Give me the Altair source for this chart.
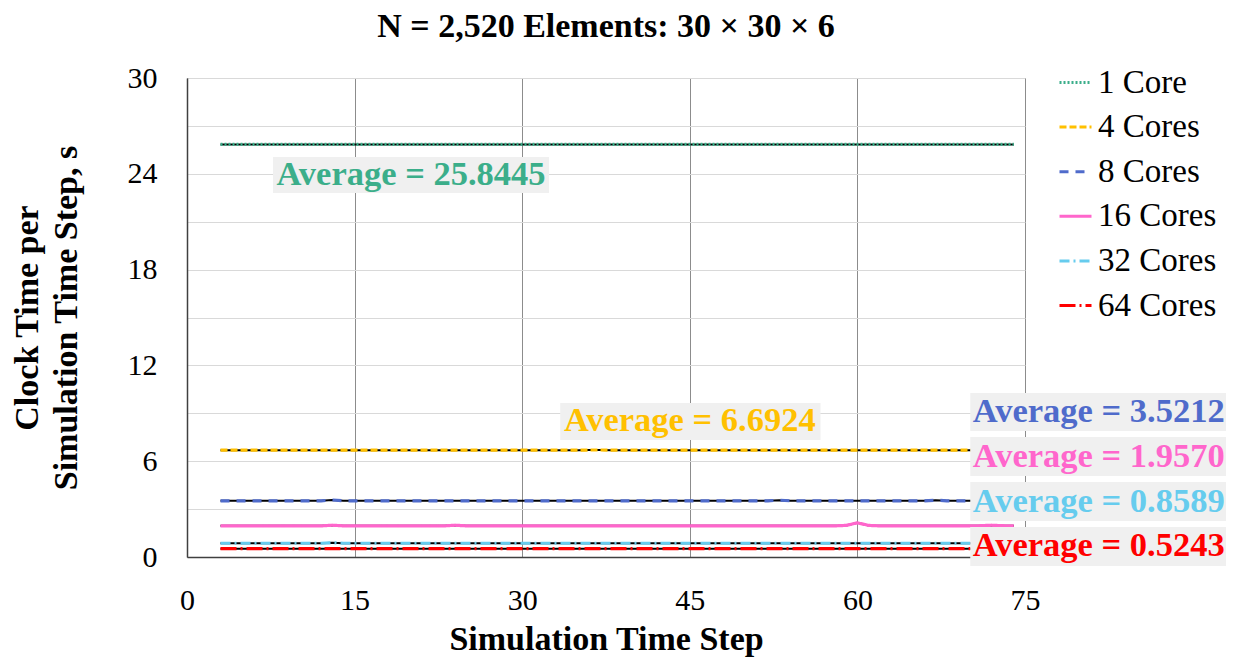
import altair as alt
import pandas as pd

steps = list(range(3, 75))

series_names = ["1 Core", "4 Cores", "8 Cores", "16 Cores", "32 Cores", "64 Cores"]
series_colors = ["#3BAE8A", "#FFC000", "#4F6BCB", "#FF66CC", "#66CCEE", "#FF0000"]
series_dashes = [[2, 2], [7, 3], [9, 7], [1, 0], [10, 4, 2, 4], [16, 4, 2, 4]]

core1 = [
    25.84, 25.84, 25.84, 25.84, 25.84, 25.84, 25.84, 25.84, 25.84, 25.84, 25.84, 25.84,
    25.84, 25.84, 25.84, 25.84, 25.84, 25.84, 25.84, 25.84, 25.84, 25.84, 25.84, 25.84,
    25.84, 25.84, 25.84, 25.84, 25.84, 25.84, 25.84, 25.84, 25.84, 25.84, 25.84, 25.84,
    25.84, 25.84, 25.84, 25.84, 25.84, 25.84, 25.84, 25.84, 25.84, 25.84, 25.84, 25.84,
    25.84, 25.84, 25.84, 25.84, 25.84, 25.84, 25.84, 25.84, 25.84, 25.84, 25.84, 25.84,
    25.84, 25.84, 25.84, 25.84, 25.84, 25.84, 25.84, 25.84, 25.84, 25.84, 25.84, 25.84,
]
core4 = [
    6.69, 6.69, 6.69, 6.69, 6.69, 6.69, 6.69, 6.69, 6.69, 6.69, 6.69, 6.69,
    6.69, 6.69, 6.69, 6.69, 6.69, 6.69, 6.69, 6.69, 6.69, 6.69, 6.69, 6.69,
    6.69, 6.69, 6.69, 6.69, 6.69, 6.69, 6.69, 6.69, 6.69, 6.70, 6.70, 6.69,
    6.69, 6.69, 6.69, 6.69, 6.69, 6.69, 6.69, 6.69, 6.69, 6.69, 6.69, 6.69,
    6.69, 6.69, 6.69, 6.69, 6.69, 6.69, 6.69, 6.69, 6.69, 6.69, 6.69, 6.69,
    6.69, 6.69, 6.69, 6.69, 6.69, 6.69, 6.69, 6.69, 6.69, 6.69, 6.69, 6.69,
]
core8 = [
    3.52, 3.52, 3.52, 3.52, 3.52, 3.52, 3.52, 3.52, 3.52, 3.52, 3.57, 3.52,
    3.52, 3.52, 3.52, 3.52, 3.52, 3.52, 3.52, 3.52, 3.52, 3.52, 3.52, 3.52,
    3.52, 3.52, 3.52, 3.52, 3.52, 3.52, 3.52, 3.52, 3.52, 3.52, 3.52, 3.52,
    3.52, 3.52, 3.52, 3.52, 3.52, 3.52, 3.52, 3.52, 3.52, 3.52, 3.52, 3.52,
    3.52, 3.52, 3.56, 3.52, 3.52, 3.52, 3.52, 3.52, 3.52, 3.52, 3.52, 3.52,
    3.52, 3.52, 3.52, 3.52, 3.56, 3.52, 3.52, 3.52, 3.52, 3.52, 3.52, 3.52,
]
core16 = [
    1.95, 1.95, 1.95, 1.95, 1.95, 1.95, 1.95, 1.95, 1.95, 1.95, 1.99, 1.95,
    1.95, 1.95, 1.95, 1.95, 1.95, 1.95, 1.95, 1.95, 1.95, 1.99, 1.95, 1.95,
    1.95, 1.95, 1.95, 1.95, 1.95, 1.95, 1.95, 1.95, 1.95, 1.95, 1.95, 1.95,
    1.95, 1.95, 1.95, 1.95, 1.95, 1.95, 1.95, 1.95, 1.95, 1.95, 1.95, 1.95,
    1.95, 1.95, 1.95, 1.95, 1.95, 1.95, 1.95, 1.95, 1.98, 2.14, 1.98, 1.95,
    1.95, 1.95, 1.95, 1.95, 1.95, 1.95, 1.95, 1.95, 1.96, 1.99, 1.96, 1.95,
]
core32 = [
    0.86, 0.86, 0.86, 0.86, 0.86, 0.86, 0.86, 0.86, 0.86, 0.86, 0.89, 0.86,
    0.86, 0.86, 0.86, 0.86, 0.86, 0.86, 0.86, 0.86, 0.86, 0.86, 0.86, 0.86,
    0.86, 0.86, 0.86, 0.86, 0.86, 0.86, 0.86, 0.86, 0.86, 0.86, 0.86, 0.86,
    0.86, 0.86, 0.86, 0.86, 0.86, 0.86, 0.86, 0.86, 0.86, 0.86, 0.86, 0.86,
    0.86, 0.86, 0.86, 0.86, 0.86, 0.86, 0.86, 0.86, 0.86, 0.86, 0.86, 0.86,
    0.86, 0.86, 0.86, 0.86, 0.86, 0.86, 0.86, 0.86, 0.86, 0.86, 0.86, 0.86,
]
core64 = [
    0.52, 0.52, 0.52, 0.52, 0.52, 0.52, 0.52, 0.52, 0.52, 0.52, 0.52, 0.52,
    0.52, 0.52, 0.52, 0.52, 0.52, 0.52, 0.52, 0.52, 0.52, 0.52, 0.52, 0.52,
    0.52, 0.52, 0.52, 0.52, 0.52, 0.52, 0.52, 0.52, 0.52, 0.52, 0.52, 0.52,
    0.52, 0.52, 0.52, 0.52, 0.52, 0.52, 0.52, 0.52, 0.52, 0.52, 0.52, 0.52,
    0.52, 0.52, 0.52, 0.52, 0.52, 0.52, 0.52, 0.52, 0.52, 0.52, 0.52, 0.52,
    0.52, 0.52, 0.52, 0.52, 0.52, 0.52, 0.52, 0.52, 0.52, 0.52, 0.52, 0.52,
]

# annotation labels: text, anchor (x, y) and box extents in data units
ann_text = ["Average = 25.8445", "Average = 6.6924", "Average = 3.5212",
            "Average = 1.9570", "Average = 0.8589", "Average = 0.5243"]
ann_x = [20.05, 45.0, 81.6, 81.6, 81.6, 81.6]
ann_y = [23.9, 8.5, 9.08, 6.29, 3.47, 0.66]
box_x1 = [7.7, 33.4, 70.1, 70.1, 70.1, 70.1]
box_x2 = [32.4, 56.7, 93.2, 93.2, 93.2, 93.2]
box_y1 = [22.79, 7.33, 7.89, 5.07, 2.25, -0.56]
box_y2 = [25.05, 9.64, 10.27, 7.51, 4.70, 1.88]

values = [core1, core4, core8, core16, core32, core64]
rows = []
for name, vals in zip(series_names, values):
    for s, v in zip(steps, vals):
        rows.append({"step": s, "value": v, "series": name})
df = pd.DataFrame(rows)

ann = pd.DataFrame({
    "text": ann_text, "x": ann_x, "y": ann_y,
    "x1": box_x1, "x2": box_x2, "y1": box_y1, "y2": box_y2,
    "color": series_colors,
})

FONT = "Liberation Serif"

x_enc = alt.X("step:Q", scale=alt.Scale(domain=[0, 75], nice=False),
              axis=alt.Axis(values=[0, 15, 30, 45, 60, 75], title="Simulation Time Step",
                            grid=True, gridColor="#8c8c8c", gridWidth=1, labelFlush=False,
                            ticks=False, labelPadding=28, titlePadding=7))
y_enc = alt.Y("value:Q", scale=alt.Scale(domain=[0, 30], nice=False),
              axis=alt.Axis(values=[0, 3, 6, 9, 12, 15, 18, 21, 24, 27, 30],
                            labelExpr="datum.value % 6 == 0 ? datum.label : ''",
                            title=["Clock Time per", "Simulation Time Step, s"],
                            grid=True, gridColor="#d9d9d9", gridWidth=1, labelFlush=False,
                            ticks=False, labelPadding=30,
                            titleX=-143, titleY=239.5, titleLineHeight=39,
                            titleAngle=-90, titleBaseline="bottom", titleAlign="center"))

base = alt.Chart(df)

black = base.mark_line(color="black", strokeWidth=2).encode(
    x=x_enc, y=y_enc, detail="series:N")

colored = base.mark_line(strokeWidth=3.2).encode(
    x="step:Q", y="value:Q",
    color=alt.Color("series:N", sort=series_names,
                    scale=alt.Scale(domain=series_names, range=series_colors),
                    legend=alt.Legend(title=None)),
    strokeDash=alt.StrokeDash("series:N", sort=series_names,
                              scale=alt.Scale(domain=series_names, range=series_dashes),
                              legend=alt.Legend(title=None)),
)

boxes = alt.Chart(ann).mark_rect(color="#F0F0F0").encode(
    x="x1:Q", x2="x2:Q", y="y1:Q", y2="y2:Q")

labels = alt.Chart(ann).mark_text(font=FONT, fontWeight="bold", fontSize=34.5,
                                  align="center", baseline="middle").encode(
    x="x:Q", y="y:Q", text="text:N", color=alt.Color("color:N", scale=None))

chart = alt.layer(black, colored, boxes, labels).properties(
    width=838, height=479,
    title=alt.TitleParams("N = 2,520 Elements: 30 \u00d7 30 \u00d7 6", font=FONT,
                          fontSize=34, fontWeight="bold", color="black",
                          anchor="middle", offset=19),
    autosize=alt.AutoSizeParams(type="none"),
    padding={"left": 179, "top": 70, "right": 201, "bottom": 100},
).configure_axis(
    labelFont=FONT, labelFontSize=30, labelColor="black",
    titleFont=FONT, titleFontSize=34, titleFontWeight="bold", titleColor="black",
    domainColor="#404040", domainWidth=1.5,
).configure_legend(
    orient="none", legendX=871, legendY=-13, symbolType="stroke",
    symbolSize=1024, symbolStrokeWidth=3, labelFont=FONT, labelFontSize=33,
    labelColor="black", rowPadding=9.6, labelOffset=5, padding=0,
    labelLimit=300,
).configure_view(stroke="#8c8c8c", strokeWidth=1)

chart.save("out.html", embed_options={"renderer": "svg", "actions": False})
